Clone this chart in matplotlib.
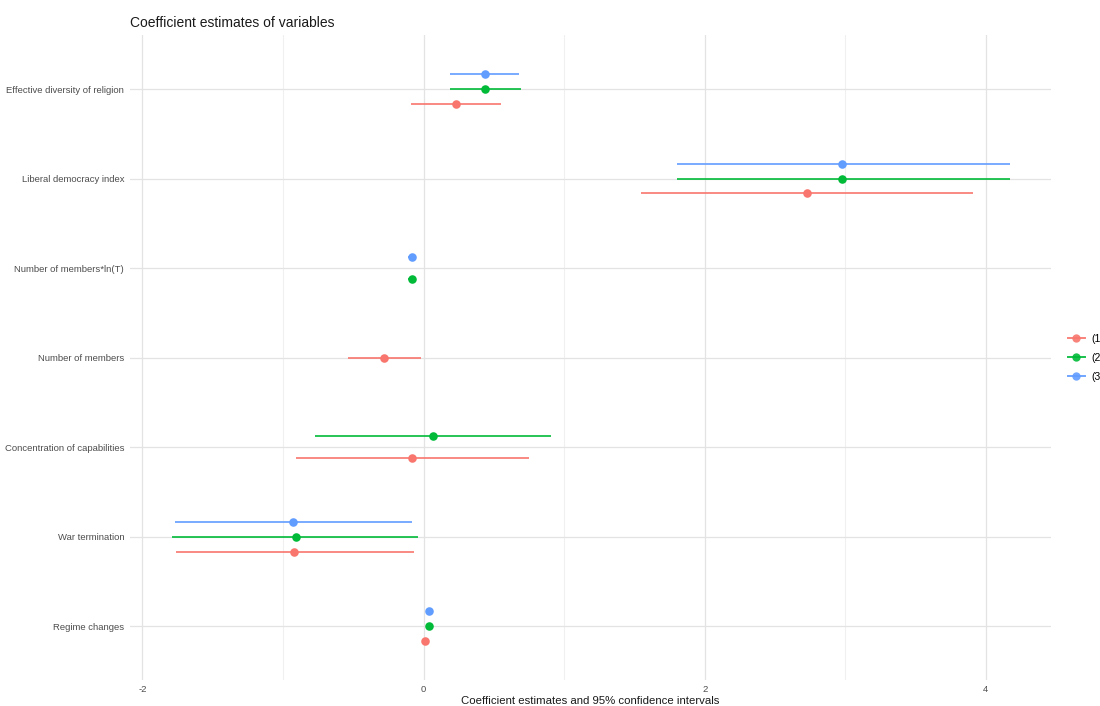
import numpy as np
import matplotlib.pyplot as plt
from matplotlib.lines import Line2D

plt.rcParams["font.family"] = ["Liberation Sans", "DejaVu Sans"]

# variables, top to bottom
variables = [
    "Effective diversity of religion",
    "Liberal democracy index",
    "Number of members*ln(T)",
    "Number of members",
    "Concentration of capabilities",
    "War termination",
    "Regime changes",
]

models = ["(1", "(2", "(3"]
colors = ["#F8766D", "#00BA38", "#619CFF"]

nan = np.nan

# point estimates per model
est_1 = [0.23, 2.73, nan, -0.28, -0.08, -0.92, 0.01]
est_2 = [0.44, 2.98, -0.08, nan, 0.07, -0.91, 0.04]
est_3 = [0.44, 2.98, -0.08, nan, nan, -0.93, 0.04]

# 95% confidence interval bounds
low_1 = [-0.09, 1.55, nan, -0.54, -0.91, -1.76, -0.01]
high_1 = [0.55, 3.91, nan, -0.02, 0.75, -0.07, 0.03]
low_2 = [0.19, 1.80, -0.11, nan, -0.77, -1.79, 0.02]
high_2 = [0.69, 4.17, -0.06, nan, 0.91, -0.04, 0.06]
low_3 = [0.19, 1.80, -0.11, nan, nan, -1.77, 0.02]
high_3 = [0.68, 4.17, -0.06, nan, nan, -0.08, 0.06]

estimates = np.array([est_1, est_2, est_3], dtype=float)
lows = np.array([low_1, low_2, low_3], dtype=float)
highs = np.array([high_1, high_2, high_3], dtype=float)

fig = plt.figure(figsize=(11, 7.06), dpi=100)
ax = fig.add_axes([0.118, 0.037, 0.837, 0.913])

n = len(variables)
base = np.arange(n)[::-1].astype(float)
dodge = 0.5

# dodge only among the models present in each row (model 1 at the bottom)
ypos = np.full(estimates.shape, nan)
for j in range(n):
    present = [m for m in range(len(models)) if not np.isnan(estimates[m, j])]
    k = len(present)
    for i, m in enumerate(present):
        ypos[m, j] = base[j] - dodge / 2 + dodge / (2 * k) + i * dodge / k

for m, col in enumerate(colors):
    ok = ~np.isnan(estimates[m])
    ax.hlines(ypos[m, ok], lows[m, ok], highs[m, ok], color=col, lw=1.4,
              alpha=0.85, zorder=3)
    ax.scatter(estimates[m, ok], ypos[m, ok], s=38, color=col, zorder=4,
               linewidths=0)

ax.set_xlim(-2.09, 4.46)
ax.set_ylim(-0.6, n - 1 + 0.6)
ax.set_xticks([-2, 0, 2, 4])
ax.set_xticks([-1, 1, 3], minor=True)
ax.set_xticklabels(["-2", "0", "2", "4"])
ax.set_yticks(base)
ax.set_yticklabels(variables)

ax.grid(True, which="major", color="#E3E3E3", lw=0.9, zorder=0)
ax.grid(True, which="minor", axis="x", color="#F0F0F0", lw=0.8, zorder=0)
for s in ax.spines.values():
    s.set_visible(False)
ax.tick_params(axis="both", which="both", length=0, labelsize=6.8,
               colors="#4D4D4D")
ax.tick_params(axis="x", pad=4)
ax.tick_params(axis="y", pad=4)

ax.set_xlabel("Coefficient estimates and 95% confidence intervals",
              fontsize=8.2, color="#1A1A1A", labelpad=1)
fig.text(0.118, 0.958, "Coefficient estimates of variables",
         fontsize=10, color="#1A1A1A", ha="left", va="bottom")

handles = [Line2D([0], [0], color=c, lw=1.4, marker="o", markersize=6,
                  markeredgewidth=0, alpha=0.9) for c in colors]
fig.legend(handles, models, loc="center left", bbox_to_anchor=(0.967, 0.493),
           frameon=False, fontsize=7.5, handlelength=1.6, handletextpad=0.7,
           labelspacing=0.85, borderaxespad=0)

fig.savefig("out.png", dpi=100, facecolor="white")
